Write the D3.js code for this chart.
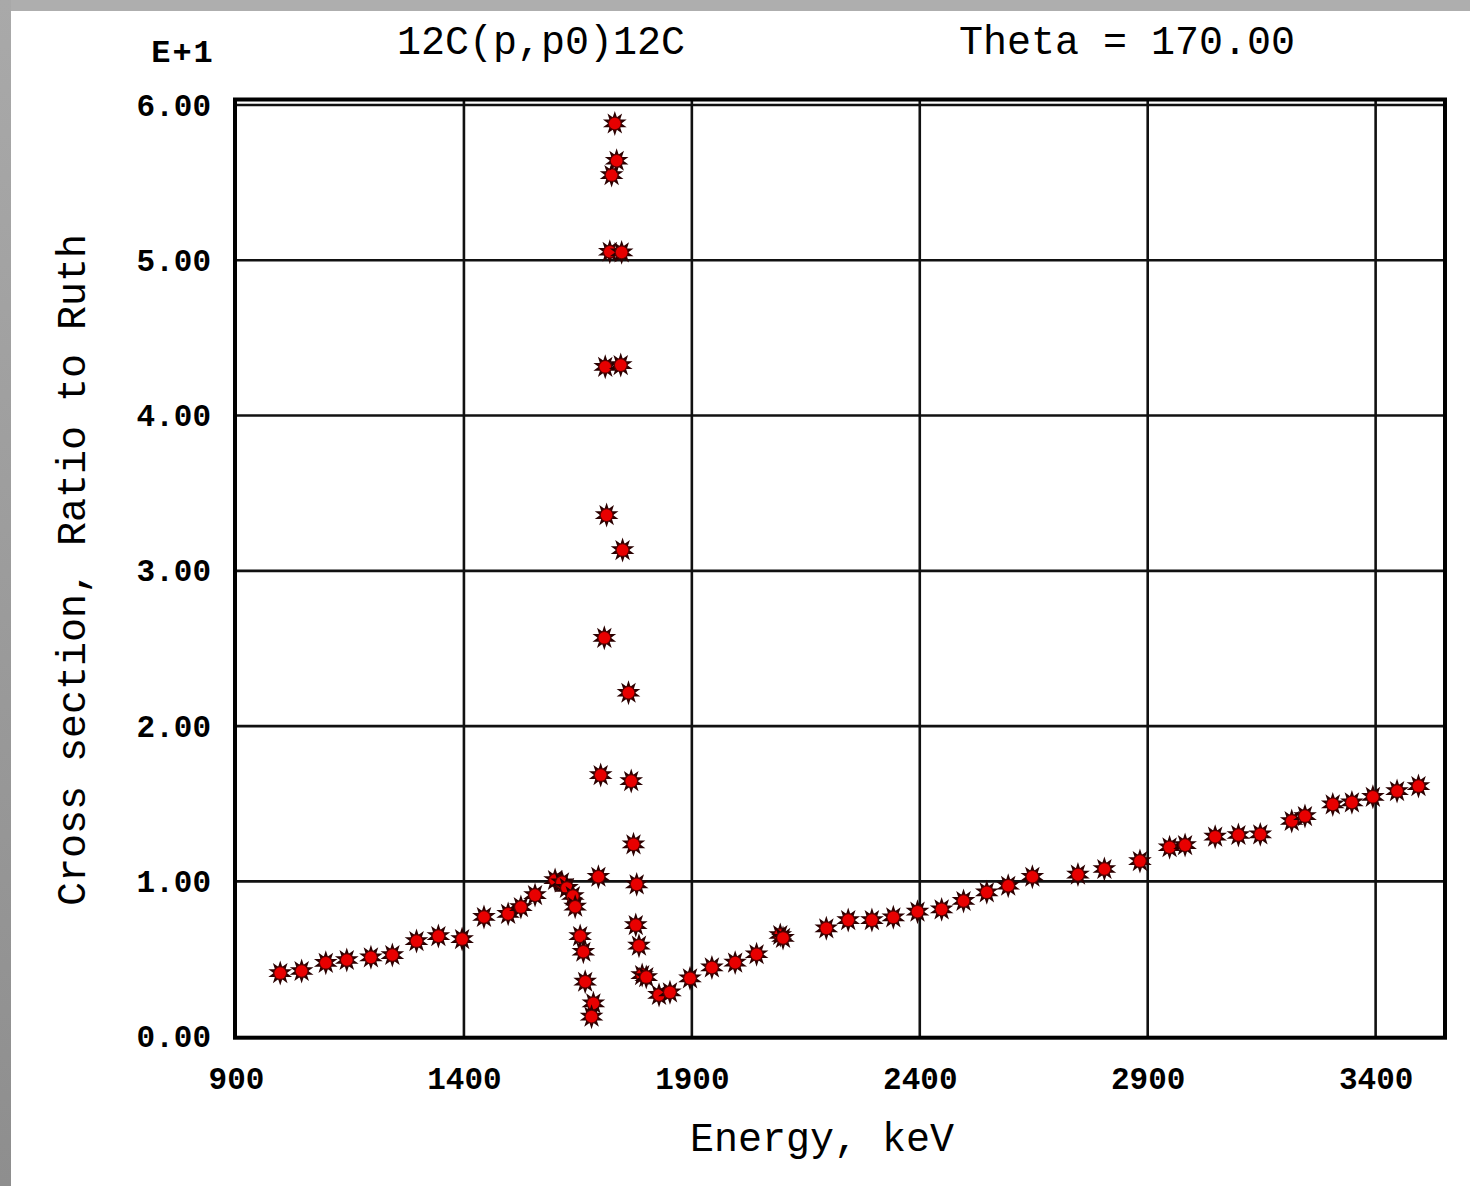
<!DOCTYPE html>
<html>
<head>
<meta charset="utf-8">
<script src="https://cdn.jsdelivr.net/npm/d3@7"></script>
<style>
  html, body { margin: 0; padding: 0; background: #ffffff; }
  svg { display: block; }
</style>
</head>
<body>
<script>
// 12C(p,p0)12C elastic scattering, cross section as ratio to Rutherford, theta = 170 deg
const energies = [
  997, 1044, 1097, 1143, 1196, 1243, 1296, 1344, 1396, 1444,
  1497, 1525, 1556, 1600, 1615, 1626, 1639, 1644, 1655, 1662,
  1666, 1684, 1680, 1695, 1700, 1708, 1713, 1710, 1720, 1724,
  1735, 1731, 1746, 1744, 1748, 1761, 1767, 1772, 1779, 1777,
  1784, 1791, 1800, 1828, 1852, 1896, 1944, 1995, 2042, 2094,
  2100, 2195, 2243, 2295, 2342, 2395, 2448, 2496, 2547, 2594,
  2647, 2747, 2805, 2883, 2948, 2982, 3048, 3099, 3147, 3216,
  3245, 3306, 3348, 3394, 3447, 3494
];
const ratios = [
  4.10, 4.23, 4.76, 4.94, 5.11, 5.26, 6.16, 6.48, 6.29, 7.71,
  7.91, 8.35, 9.12, 10.09, 9.94, 9.58, 9.06, 8.37, 6.48, 5.47,
  3.54, 2.15, 1.29, 10.30, 16.85, 25.69, 33.59, 43.14, 50.55, 55.49,
  56.41, 58.81, 50.51, 43.25, 31.34, 22.15, 16.46, 12.39, 9.81, 7.19,
  5.86, 3.97, 3.84, 2.69, 2.86, 3.76, 4.46, 4.77, 5.31, 6.55,
  6.36, 6.98, 7.51, 7.51, 7.69, 8.05, 8.20, 8.74, 9.30, 9.72,
  10.30, 10.44, 10.80, 11.31, 12.20, 12.34, 12.88, 12.99, 13.03, 13.89,
  14.21, 14.96, 15.09, 15.45, 15.82, 16.14
];

const xTicks = [900, 1400, 1900, 2400, 2900, 3400];
const yTicks = [0, 10, 20, 30, 40, 50, 60];
const yExponentLabel = "E+1";
const reactionLabel = "12C(p,p0)12C";
const angleLabel = "Theta = 170.00";
const xTitle = "Energy, keV";
const yTitle = "Cross section, Ratio to Ruth";

const W = 1470, H = 1186;
const plotLeft = 236, plotRight = 1444, plotTop = 105, plotBottom = 1036.7;

const svg = d3.select("body").append("svg")
  .attr("width", W).attr("height", H);

// page frame: grey strips along the top and the left edge
const defs = svg.append("defs");
const grad = defs.append("linearGradient").attr("id", "edgeGrad")
  .attr("x1", 0).attr("y1", 0).attr("x2", 0).attr("y2", 1);
grad.append("stop").attr("offset", 0).attr("stop-color", "#a9a9a9");
grad.append("stop").attr("offset", 1).attr("stop-color", "#8e8e8e");
svg.append("rect").attr("x", 0).attr("y", 0).attr("width", W).attr("height", 11).attr("fill", "#aeaeae");
svg.append("rect").attr("x", 0).attr("y", 0).attr("width", 11).attr("height", H).attr("fill", "url(#edgeGrad)");

const x = d3.scaleLinear().domain([900, 3550]).range([plotLeft, plotRight]);
const y = d3.scaleLinear().domain([0, 60]).range([plotBottom, plotTop]);

const mono = "'Liberation Mono', 'DejaVu Sans Mono', monospace";

// grid lines
const grid = svg.append("g");
grid.selectAll("line.v").data(xTicks.slice(1)).join("line")
  .attr("class", "v")
  .attr("x1", d => x(d)).attr("x2", d => x(d))
  .attr("y1", 99).attr("y2", plotBottom)
  .attr("stroke", "#111").attr("stroke-width", 2.6);
grid.selectAll("line.h").data(yTicks.slice(1)).join("line")
  .attr("class", "h")
  .attr("x1", plotLeft).attr("x2", plotRight)
  .attr("y1", d => y(d)).attr("y2", d => y(d))
  .attr("stroke", "#111").attr("stroke-width", 2.6);

// plot frame
svg.append("rect")
  .attr("x", 235).attr("y", 99.5)
  .attr("width", plotRight + 1 - 235).attr("height", plotBottom + 1 - 99.5)
  .attr("fill", "none").attr("stroke", "#000").attr("stroke-width", 4);

// axes with labels only (lines come from the grid and frame)
const xAxis = d3.axisBottom(x).tickValues(xTicks).tickSize(0).tickPadding(0)
  .tickFormat(d3.format("d"));
const gx = svg.append("g").attr("transform", `translate(0,${plotBottom})`).call(xAxis);
gx.select(".domain").remove();
gx.selectAll("text")
  .attr("dy", null).attr("y", 52)
  .attr("font-family", mono).attr("font-weight", "bold")
  .attr("font-size", 31).attr("fill", "#000");

const yAxis = d3.axisLeft(y).tickValues(yTicks).tickSize(0).tickPadding(0)
  .tickFormat(d => (d / 10).toFixed(2));
const gy = svg.append("g").attr("transform", `translate(211,0)`).call(yAxis);
gy.select(".domain").remove();
gy.selectAll("text")
  .attr("dy", null).attr("y", 10).attr("x", 0)
  .attr("font-family", mono).attr("font-weight", "bold")
  .attr("font-size", 31).attr("fill", "#000");

// header texts
svg.append("text").attr("x", 183).attr("y", 62).attr("text-anchor", "middle")
  .attr("font-family", mono).attr("font-weight", "bold").attr("font-size", 32)
  .attr("letter-spacing", 2)
  .text(yExponentLabel);
svg.append("text").attr("x", 541).attr("y", 54).attr("text-anchor", "middle")
  .attr("font-family", mono).attr("font-size", 40).text(reactionLabel);
svg.append("text").attr("x", 1127).attr("y", 54).attr("text-anchor", "middle")
  .attr("font-family", mono).attr("font-size", 40).text(angleLabel);

// axis titles
svg.append("text").attr("x", 822).attr("y", 1151).attr("text-anchor", "middle")
  .attr("font-family", mono).attr("font-size", 40).text(xTitle);
svg.append("text")
  .attr("transform", "translate(85,570) rotate(-90)")
  .attr("text-anchor", "middle")
  .attr("font-family", mono).attr("font-size", 40).text(yTitle);

// data markers: dark spiky rim behind a red disc
const points = energies.map((e, i) => ({ e, r: ratios[i] }));
const star = d3.symbol().type(d3.symbolStar).size(175)();
const marks = svg.append("g").selectAll("g").data(points).join("g")
  .attr("transform", d => `translate(${x(d.e)},${y(d.r)})`);
marks.append("path").attr("d", star).attr("fill", "#2a0000");
marks.append("path").attr("d", star).attr("fill", "#2a0000")
  .attr("transform", "rotate(36)");
marks.append("circle").attr("r", 7).attr("fill", "#5a0000");
marks.append("circle").attr("r", 5.8).attr("fill", "#e80000");
</script>
</body>
</html>
